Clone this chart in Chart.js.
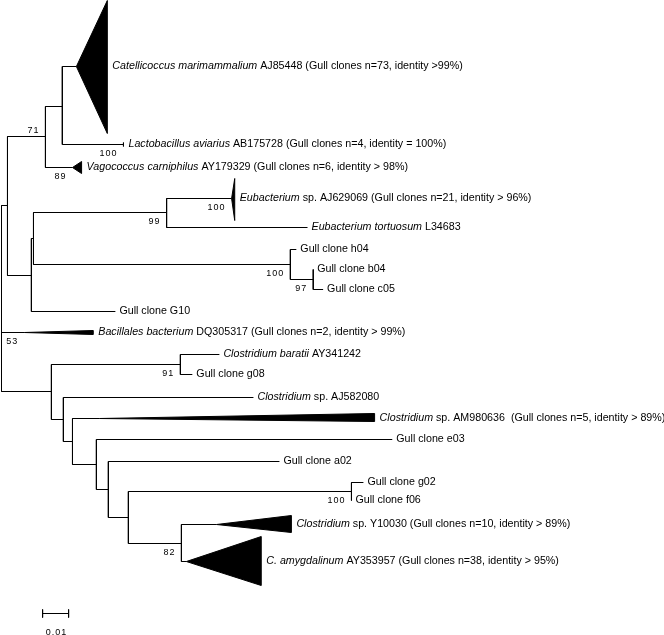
<!DOCTYPE html>
<html>
<head>
<meta charset="utf-8">
<script src="https://cdn.jsdelivr.net/npm/chart.js@4.4.1/dist/chart.umd.min.js"></script>
<style>
  html, body { margin: 0; padding: 0; background: #fff; }
  #wrap { width: 664px; height: 635px; }
</style>
</head>
<body>
<div id="wrap"><canvas id="treeChart"></canvas></div>
<script>
// tree nodes: parent, branch length (substitutions/site), vertical row position
const nodeId = ['root', 'A', 'B', 'C', 'catel', 'lacto', 'vago', 'E', 'F', 'G', 'eubsp', 'tort',
  'H', 'h04', 'I', 'b04', 'c05', 'g10', 'bacil', 'J', 'K', 'barat', 'g08', 'L', 'aj58', 'M',
  'am98', 'N', 'e03', 'O', 'a02', 'P', 'Q', 'g02', 'f06', 'R', 'y100', 'amyg'];
const nodeParent = [null, 'root', 'A', 'B', 'C', 'C', 'B', 'A', 'E', 'F', 'G', 'G',
  'F', 'H', 'H', 'I', 'I', 'E', 'root', 'root', 'J', 'K', 'K', 'J', 'L', 'L',
  'M', 'M', 'N', 'N', 'O', 'O', 'P', 'Q', 'Q', 'P', 'R', 'R'];
const branchLength = [0, 0.0023, 0.0146, 0.0065, 0.0054, 0.0235, 0.0104, 0.0092, 0.0008, 0.0512, 0.0250, 0.0542,
  0.0988, 0.0023, 0.0088, 0, 0.0038, 0.0323, 0.0088, 0.0192, 0.0496, 0.0150, 0.0046, 0.0046, 0.0731, 0.0035,
  0.0104, 0.0092, 0.1138, 0.0046, 0.0658, 0.0077, 0.0858, 0.0046, 0, 0.0204, 0.0135, 0.0019];
const nodeRow = [298, 205, 136, 106, 66, 144, 167, 275, 238, 212, 198, 227,
  264, 249, 279, 269, 289, 311, 332, 391, 364, 354, 374, 419, 397, 441,
  418, 464, 439, 489, 461, 517, 491, 482, 500, 543, 524, 561];

// collapsed clades drawn as wedges
const cladeNode = ['catel', 'lacto', 'vago', 'eubsp', 'bacil', 'am98', 'y100', 'amyg'];
const cladeDepth = [0.0119, 0, 0.0035, 0.0012, 0.0265, 0.1058, 0.0288, 0.0288];
const cladeUp = [66, 2, 6, 20, 2, 5, 9, 25];
const cladeDown = [67, 2, 6, 22, 2, 3, 8, 24];

// tip labels (*...* = italic)
const tipNode = ['catel', 'lacto', 'vago', 'eubsp', 'tort', 'h04', 'b04', 'c05', 'g10', 'bacil',
  'barat', 'g08', 'aj58', 'am98', 'e03', 'a02', 'g02', 'f06', 'y100', 'amyg'];
const tipLabel = [
  '*Catellicoccus marimammalium* AJ85448 (Gull clones n=73, identity >99%)',
  '*Lactobacillus aviarius* AB175728 (Gull clones n=4, identity = 100%)',
  '*Vagococcus carniphilus* AY179329 (Gull clones n=6, identity > 98%)',
  '*Eubacterium* sp. AJ629069 (Gull clones n=21, identity > 96%)',
  '*Eubacterium tortuosum* L34683',
  'Gull clone h04',
  'Gull clone b04',
  'Gull clone c05',
  'Gull clone G10',
  '*Bacillales bacterium* DQ305317 (Gull clones n=2, identity > 99%)',
  '*Clostridium baratii* AY341242',
  'Gull clone g08',
  '*Clostridium* sp. AJ582080',
  '*Clostridium* sp. AM980636  (Gull clones n=5, identity > 89%)',
  'Gull clone e03',
  'Gull clone a02',
  'Gull clone g02',
  'Gull clone f06',
  '*Clostridium* sp. Y10030 (Gull clones n=10, identity > 89%)',
  '*C. amygdalinum* AY353957 (Gull clones n=38, identity > 95%)'
];

// bootstrap values
const bootNode = ['B', 'lacto', 'vago', 'G', 'eubsp', 'H', 'I', 'bacil', 'K', 'Q', 'R'];
const bootValue = ['71', '100', '89', '99', '100', '100', '97', '53', '91', '100', '82'];
const bootAbove = [true, false, false, false, false, false, false, false, false, false, false];

const scaleBarStart = 0.0158;
const scaleBarLength = 0.01;
const scaleBarRow = 613;
const scaleBarLabel = '0.01';

// cumulative distance from root
const nodeX = {};
const nodeY = {};
nodeId.forEach((id, i) => {
  const p = nodeParent[i];
  nodeX[id] = (p === null ? 0 : nodeX[p]) + branchLength[i];
  nodeY[id] = nodeRow[i];
});

const GAP = { x: NaN, y: NaN };

// branch segments: horizontal from parent, vertical spanning children
const branchPoints = [];
nodeId.forEach((id, i) => {
  const p = nodeParent[i];
  if (p !== null && branchLength[i] > 0) {
    branchPoints.push({ x: nodeX[p], y: nodeY[id] }, { x: nodeX[id], y: nodeY[id] }, { ...GAP });
  }
  const kids = nodeId.filter((k, j) => nodeParent[j] === id).map(k => nodeY[k]);
  if (kids.length) {
    branchPoints.push({ x: nodeX[id], y: Math.min(...kids) }, { x: nodeX[id], y: Math.max(...kids) }, { ...GAP });
  }
});

const scalePoints = [
  { x: scaleBarStart, y: scaleBarRow }, { x: scaleBarStart + scaleBarLength, y: scaleBarRow }, { ...GAP },
  { x: scaleBarStart, y: scaleBarRow - 4 }, { x: scaleBarStart, y: scaleBarRow + 4 }, { ...GAP },
  { x: scaleBarStart + scaleBarLength, y: scaleBarRow - 4 }, { x: scaleBarStart + scaleBarLength, y: scaleBarRow + 4 }
];

const FONT = "'Liberation Sans', Arial, Helvetica, sans-serif";

const treeMarks = {
  id: 'treeMarks',
  afterDatasetsDraw(chart) {
    const ctx = chart.ctx;
    const sx = chart.scales.x, sy = chart.scales.y;
    ctx.save();

    // collapsed clade wedges
    ctx.fillStyle = '#000';
    ctx.strokeStyle = '#000';
    ctx.lineWidth = 1;
    cladeNode.forEach((id, i) => {
      const x0 = sx.getPixelForValue(nodeX[id]);
      const x1 = sx.getPixelForValue(nodeX[id] + cladeDepth[i]);
      const y0 = sy.getPixelForValue(nodeY[id]);
      ctx.beginPath();
      ctx.moveTo(x0, y0);
      ctx.lineTo(x1, sy.getPixelForValue(nodeY[id] - cladeUp[i]));
      ctx.lineTo(x1, sy.getPixelForValue(nodeY[id] + cladeDown[i]));
      ctx.closePath();
      ctx.fill();
      ctx.stroke();
    });

    // tip labels
    ctx.fillStyle = '#000';
    ctx.textBaseline = 'middle';
    ctx.textAlign = 'left';
    tipNode.forEach((id, i) => {
      const ci = cladeNode.indexOf(id);
      const tip = nodeX[id] + (ci >= 0 ? cladeDepth[ci] : 0);
      let x = sx.getPixelForValue(tip) + (ci >= 0 ? 5 : 4);
      const y = sy.getPixelForValue(nodeY[id]);
      tipLabel[i].split('*').forEach((part, k) => {
        if (!part) return;
        ctx.font = (k % 2 ? 'italic ' : '') + '10.7px ' + FONT;
        ctx.fillText(part, x, y);
        x += ctx.measureText(part).width;
      });
    });

    // bootstrap values
    ctx.font = '9px ' + FONT;
    ctx.letterSpacing = '1px';
    ctx.textAlign = 'right';
    bootNode.forEach((id, i) => {
      const x = sx.getPixelForValue(nodeX[id]) - 6;
      const y = sy.getPixelForValue(nodeY[id]) + (bootAbove[i] ? -6 : 9);
      ctx.fillText(bootValue[i], x, y);
    });

    // scale bar label
    ctx.textAlign = 'center';
    ctx.fillText(scaleBarLabel,
      sx.getPixelForValue(scaleBarStart + scaleBarLength / 2) + 1,
      sy.getPixelForValue(scaleBarRow + 19));
    ctx.restore();
  }
};

new Chart(document.getElementById('treeChart'), {
  type: 'line',
  data: {
    datasets: [{
      data: branchPoints,
      borderColor: '#000',
      borderWidth: 1,
      pointRadius: 0,
      spanGaps: false,
      tension: 0
    }, {
      data: scalePoints,
      borderColor: '#000',
      borderWidth: 1,
      pointRadius: 0,
      spanGaps: false,
      tension: 0
    }]
  },
  options: {
    responsive: true,
    maintainAspectRatio: false,
    animation: false,
    layout: { padding: 0 },
    plugins: { legend: { display: false }, tooltip: { enabled: false } },
    events: [],
    scales: {
      x: { type: 'linear', display: false, min: -1.5 / 2600, max: 662.5 / 2600 },
      y: { type: 'linear', display: false, reverse: true, min: -0.5, max: 634.5 }
    }
  },
  plugins: [treeMarks]
});
</script>
</body>
</html>
